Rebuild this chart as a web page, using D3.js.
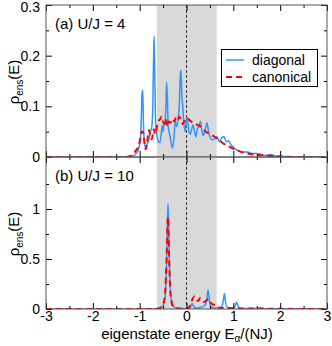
<!DOCTYPE html>
<html>
<head>
<meta charset="utf-8">
<script src="https://cdn.jsdelivr.net/npm/d3@7"></script>
<style>
  html, body { margin: 0; padding: 0; background: #fff; }
  svg { display: block; font-family: "Liberation Sans", Arial, sans-serif; }
  .tick text { font-size: 14px; fill: #000; }
  .tick line { stroke: #000; }
</style>
</head>
<body>
<svg id="chart" width="332" height="346"></svg>
<script>
// ── Data ─────────────────────────────────

// panel (a) U/J = 4 : [E/(NJ), rho_ens]
const diagA = [
  [-3, 0], [-1.3, 0], [-1.15, 0.002], [-1.06, 0.008], [-1.0, 0.025], [-0.97, 0.06], [-0.95, 0.125],
  [-0.935, 0.132], [-0.92, 0.07], [-0.9, 0.03], [-0.87, 0.018], [-0.84, 0.025], [-0.8, 0.035],
  [-0.77, 0.05], [-0.74, 0.06], [-0.72, 0.1], [-0.70, 0.21], [-0.69, 0.238], [-0.675, 0.15],
  [-0.66, 0.07], [-0.63, 0.04], [-0.6, 0.03], [-0.57, 0.028], [-0.54, 0.045], [-0.52, 0.062],
  [-0.5, 0.05], [-0.48, 0.065], [-0.46, 0.07], [-0.44, 0.1], [-0.425, 0.148], [-0.41, 0.12],
  [-0.39, 0.06], [-0.36, 0.045], [-0.33, 0.03], [-0.3, 0.018], [-0.27, 0.035], [-0.24, 0.07],
  [-0.21, 0.06], [-0.18, 0.075], [-0.15, 0.11], [-0.13, 0.17], [-0.115, 0.17], [-0.1, 0.12],
  [-0.08, 0.1], [-0.06, 0.07], [-0.03, 0.05], [0.0, 0.075], [0.02, 0.078], [0.05, 0.05],
  [0.08, 0.045], [0.11, 0.055], [0.14, 0.063], [0.17, 0.05], [0.2, 0.04], [0.23, 0.055],
  [0.26, 0.06], [0.3, 0.07], [0.33, 0.05], [0.36, 0.042], [0.4, 0.055], [0.44, 0.067],
  [0.47, 0.05], [0.51, 0.038], [0.55, 0.034], [0.6, 0.036], [0.65, 0.04], [0.7, 0.03],
  [0.75, 0.038], [0.8, 0.04], [0.85, 0.03], [0.9, 0.032], [0.95, 0.024], [1.0, 0.02],
  [1.05, 0.015], [1.1, 0.013], [1.2, 0.01], [1.3, 0.01], [1.4, 0.007], [1.5, 0.007],
  [1.6, 0.005], [1.7, 0.003], [1.8, 0.005], [1.9, 0.002], [2.1, 0.001], [2.5, 0], [3, 0]
];
const canonA = [
  [-3, 0], [-1.3, 0], [-1.2, 0.002], [-1.1, 0.01], [-1.0, 0.03], [-0.96, 0.05], [-0.93, 0.05],
  [-0.9, 0.03], [-0.87, 0.015], [-0.84, 0.03], [-0.8, 0.053], [-0.77, 0.04], [-0.74, 0.035],
  [-0.7, 0.055], [-0.67, 0.045], [-0.63, 0.06], [-0.6, 0.07], [-0.56, 0.075], [-0.53, 0.08],
  [-0.5, 0.07], [-0.47, 0.065], [-0.44, 0.075], [-0.41, 0.06], [-0.38, 0.07], [-0.34, 0.068],
  [-0.3, 0.075], [-0.26, 0.07], [-0.22, 0.08], [-0.18, 0.075], [-0.15, 0.08], [-0.12, 0.073],
  [-0.08, 0.065], [-0.05, 0.07], [0.0, 0.077], [0.05, 0.074], [0.1, 0.07], [0.2, 0.065],
  [0.3, 0.06], [0.4, 0.051], [0.5, 0.045], [0.6, 0.04], [0.7, 0.033], [0.8, 0.026],
  [0.9, 0.021], [1.0, 0.016], [1.1, 0.012], [1.2, 0.009], [1.35, 0.006], [1.5, 0.004],
  [1.7, 0.003], [2.0, 0.001], [2.4, 0], [3, 0]
];

// panel (b) U/J = 10
const diagB = [
  [-3, 0], [-0.7, 0], [-0.6, 0.005], [-0.52, 0.02], [-0.47, 0.08], [-0.44, 0.25], [-0.42, 0.55],
  [-0.405, 0.9], [-0.395, 1.05], [-0.385, 0.9], [-0.37, 0.55], [-0.35, 0.25], [-0.32, 0.08],
  [-0.28, 0.03], [-0.22, 0.01], [-0.1, 0.005], [0, 0.005], [0.06, 0.01], [0.1, 0.03],
  [0.12, 0.056], [0.14, 0.04], [0.17, 0.015], [0.22, 0.01], [0.3, 0.015], [0.38, 0.03],
  [0.43, 0.08], [0.46, 0.19], [0.49, 0.08], [0.53, 0.02], [0.6, 0.01], [0.7, 0.01],
  [0.76, 0.03], [0.79, 0.1], [0.81, 0.155], [0.83, 0.08], [0.87, 0.015], [0.95, 0.01],
  [1.03, 0.02], [1.07, 0.07], [1.1, 0.03], [1.15, 0.005], [1.3, 0.005], [1.55, 0.005],
  [1.58, 0.012], [1.62, 0.003], [2, 0.002], [3, 0]
];
const canonB = [
  [-3, 0], [-0.7, 0], [-0.6, 0.005], [-0.52, 0.03], [-0.47, 0.1], [-0.44, 0.3], [-0.42, 0.6],
  [-0.405, 0.85], [-0.395, 0.92], [-0.385, 0.8], [-0.37, 0.5], [-0.35, 0.22], [-0.32, 0.07],
  [-0.28, 0.02], [-0.2, 0.005], [0, 0.003], [0.06, 0.02], [0.12, 0.09], [0.17, 0.125],
  [0.21, 0.09], [0.25, 0.08], [0.29, 0.11], [0.33, 0.085], [0.38, 0.07], [0.43, 0.09],
  [0.48, 0.1], [0.52, 0.06], [0.57, 0.045], [0.62, 0.04], [0.66, 0.015], [0.75, 0.01],
  [0.9, 0.01], [1.2, 0.005], [1.6, 0.004], [2, 0.002], [3, 0]
];

const xTicks = [-3, -2, -1, 0, 1, 2, 3];
const xMinor = [-2.5, -1.5, -0.5, 0.5, 1.5, 2.5];
const yTicksA = [0, 0.1, 0.2, 0.3];
const yMinorA = [0.05, 0.15, 0.25];
const yTicksB = [0, 0.5, 1];
const yMinorB = [0.25, 0.75, 1.25];
const band = [-0.63, 0.645];          // shaded window
const panelLabels = ['(a) U/J = 4', '(b) U/J = 10'];
const seriesNames = ['diagonal', 'canonical'];

// ── Layout ───────────────────────────────

const L = 46, R = 327, T = 5, MID = 157, B = 309;
const BLUE = '#2f95ff', RED = '#ff0000';
const plain = d => String(d);   // hyphen minus like the original

const svg = d3.select('#chart');
const x = d3.scaleLinear().domain([-3, 3]).range([L, R]);

const panels = [
  { y: d3.scaleLinear().domain([0, 0.3]).range([MID, T]), top: T, bot: MID,
    major: yTicksA, minor: yMinorA, diag: diagA, canon: canonA, label: panelLabels[0], fmt: plain },
  { y: d3.scaleLinear().domain([0, 1.52]).range([B, MID]), top: MID, bot: B,
    major: yTicksB, minor: yMinorB, diag: diagB, canon: canonB, label: panelLabels[1], fmt: plain }
];

svg.append('defs').selectAll('clipPath').data(panels).join('clipPath')
  .attr('id', (d, i) => 'clip' + i)
  .append('rect').attr('x', L).attr('y', d => d.top).attr('width', R - L).attr('height', d => d.bot - d.top);

panels.forEach((p, i) => {
  const g = svg.append('g');
  const plot = g.append('g').attr('clip-path', `url(#clip${i})`);

  // shaded band + zero line
  plot.append('rect')
    .attr('x', x(band[0])).attr('width', x(band[1]) - x(band[0]))
    .attr('y', p.top).attr('height', p.bot - p.top)
    .attr('fill', '#d9d9d9');
  plot.append('line')
    .attr('x1', x(0)).attr('x2', x(0)).attr('y1', p.top).attr('y2', p.bot)
    .attr('stroke', '#333').attr('stroke-width', 1).attr('stroke-dasharray', '3,2');

  const line = d3.line().x(d => x(d[0])).y(d => p.y(d[1])).curve(d3.curveMonotoneX);
  plot.append('path').datum(p.diag).attr('d', line)
    .attr('fill', 'none').attr('stroke', BLUE).attr('stroke-width', 1.5);
  plot.append('path').datum(p.canon).attr('d', line)
    .attr('fill', 'none').attr('stroke', RED).attr('stroke-width', 2).attr('stroke-dasharray', '6,4');

  // axes, ticks pointing inward
  const mk = (axis, tr) => g.append('g').attr('transform', tr).call(axis).call(s => s.select('.domain').remove());
  const yAx = mk(d3.axisLeft(p.y).tickValues(p.major).tickSize(-6).tickPadding(6).tickFormat(p.fmt), `translate(${L},0)`);
  if (i === 0) yAx.selectAll('.tick text').filter(d => d === 0.3).attr('dy', '0.45em');
  mk(d3.axisLeft(p.y).tickValues(p.minor).tickSize(-3).tickFormat(''), `translate(${L},0)`);
  mk(d3.axisRight(p.y).tickValues(p.major).tickSize(-6).tickFormat(''), `translate(${R},0)`);
  mk(d3.axisRight(p.y).tickValues(p.minor).tickSize(-3).tickFormat(''), `translate(${R},0)`);
  mk(d3.axisTop(x).tickValues(xTicks).tickSize(-6).tickFormat(''), `translate(0,${p.top})`);
  mk(d3.axisTop(x).tickValues(xMinor).tickSize(-3).tickFormat(''), `translate(0,${p.top})`);
  mk(d3.axisBottom(x).tickValues(xTicks).tickSize(-6).tickPadding(2).tickFormat(i === 1 ? plain : ''), `translate(0,${p.bot})`);
  mk(d3.axisBottom(x).tickValues(xMinor).tickSize(-3).tickFormat(''), `translate(0,${p.bot})`);

  // frame
  g.append('rect').attr('x', L).attr('y', p.top).attr('width', R - L).attr('height', p.bot - p.top)
    .attr('fill', 'none').attr('stroke', '#555').attr('stroke-width', 1);

  // panel label
  g.append('text').attr('x', 55).attr('y', p.top + 24)
    .attr('font-size', 15).text(p.label);

  // y label
  const yl = g.append('text')
    .attr('transform', `translate(19,${(p.top + p.bot) / 2 + 1}) rotate(-90)`)
    .attr('text-anchor', 'middle').attr('font-size', 15);
  yl.append('tspan').text('ρ');
  yl.append('tspan').attr('font-size', 10).attr('dy', 4).text('ens');
  yl.append('tspan').attr('dy', -4).text('(E)');
});

// x label
const xl = svg.append('text').attr('x', 187).attr('y', 339)
  .attr('text-anchor', 'middle').attr('font-size', 15);
xl.append('tspan').text('eigenstate energy E');
xl.append('tspan').attr('font-size', 10).attr('dy', 3).text('α');
xl.append('tspan').attr('dy', -3).text('/(NJ)');

// legend
const lg = svg.append('g');
lg.append('rect').attr('x', 221.5).attr('y', 49.5).attr('width', 96).attr('height', 37)
  .attr('fill', '#fff').attr('stroke', '#000').attr('stroke-width', 1);
seriesNames.forEach((name, i) => {
  const yy = 60 + i * 17;
  lg.append('line').attr('x1', 226).attr('x2', 244).attr('y1', yy).attr('y2', yy)
    .attr('stroke', i ? RED : BLUE).attr('stroke-width', i ? 2 : 1.5)
    .attr('stroke-dasharray', i ? '6,4' : null);
  lg.append('text').attr('x', 252).attr('y', yy + 5).attr('font-size', 14).text(name);
});
</script>
</body>
</html>
